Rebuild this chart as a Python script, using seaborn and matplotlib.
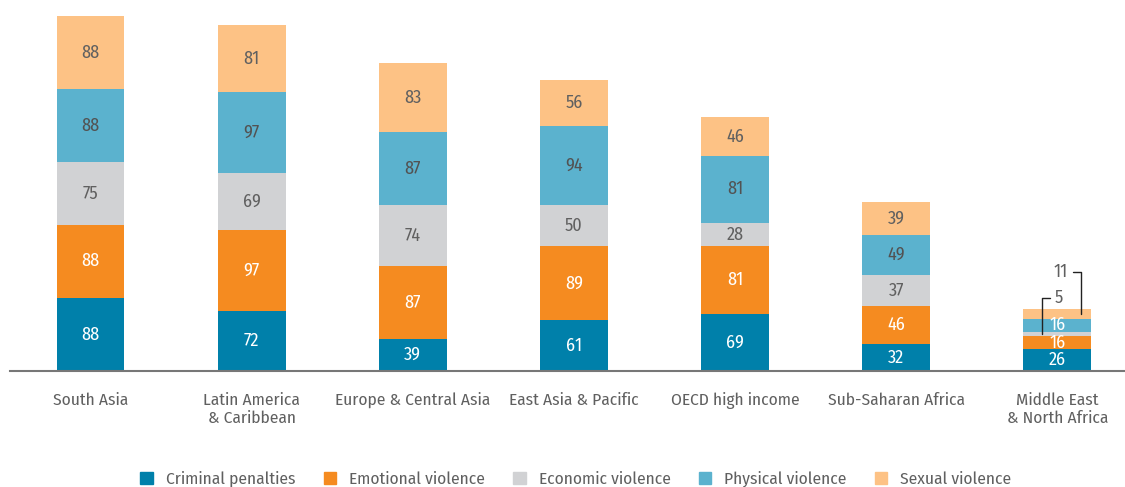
import numpy as np
import matplotlib
matplotlib.use("Agg")
import matplotlib.pyplot as plt
import seaborn as sns

# Data
regions = ["South Asia", "Latin America\n& Caribbean", "Europe & Central Asia",
           "East Asia & Pacific", "OECD high income", "Sub-Saharan Africa",
           "Middle East\n& North Africa"]
series = ["Criminal penalties", "Emotional violence", "Economic violence",
          "Physical violence", "Sexual violence"]
criminal = [88, 72, 39, 61, 69, 32, 26]
emotional = [88, 97, 87, 89, 81, 46, 16]
economic = [75, 69, 74, 50, 28, 37, 5]
physical = [88, 97, 87, 94, 81, 49, 16]
sexual = [88, 81, 83, 56, 46, 39, 11]

colors = ["#0080aa", "#f58b20", "#d1d2d4", "#5bb2ce", "#fdc285"]
label_colors = ["white", "white", "#606060", "#525252", "#606060"]
text_gray = "#606060"

sns.set_theme(style="white")
plt.rcParams["font.family"] = ["Fira Sans Condensed", "DejaVu Sans"]

values = np.array([criminal, emotional, economic, physical, sexual], dtype=float)
cum = values.cumsum(axis=0)

fig = plt.figure(figsize=(11.25, 4.87), dpi=100)
ax = fig.add_axes([10 / 1125, 116 / 487, 1115 / 1125, 366 / 487])

# draw cumulative totals from the top series down so each layer overlays the next
for i in range(len(series) - 1, -1, -1):
    sns.barplot(x=regions, y=cum[i], color=colors[i], width=0.42, saturation=1,
                linewidth=0, ax=ax, label=series[i])

ax.set_xlim(-0.5, 6.42)
ax.set_ylim(0, 440)

# segment labels
for j in range(len(regions)):
    for i in range(len(series)):
        v = values[i, j]
        mid = cum[i, j] - v / 2
        if j == 6 and i in (2, 4):
            continue
        col = label_colors[i]
        if j == 6 and i == 3:
            col = "white"
        ax.text(j, mid, f"{int(v)}", ha="center", va="center", color=col, fontsize=13)

# leader-line labels for the thin MENA segments
j = 6
y5 = cum[2, j] - values[2, j] / 2
y11 = cum[4, j] - values[4, j] / 2
ax.text(j + 0.01, 88, "5", ha="center", va="center", color=text_gray, fontsize=13)
ax.plot([j - 0.045, j - 0.095, j - 0.095], [88, 88, y5], color="#222222", lw=1)
ax.text(j + 0.02, 119, "11", ha="center", va="center", color=text_gray, fontsize=13)
ax.plot([j + 0.1, j + 0.148, j + 0.148], [119, 119, y11], color="#222222", lw=1)

for s in ["top", "right", "left"]:
    ax.spines[s].set_visible(False)
ax.spines["bottom"].set_color("#777777")
ax.spines["bottom"].set_linewidth(1.5)
ax.set_yticks([])
ax.set_xlabel("")
ax.set_ylabel("")
ax.tick_params(axis="x", length=0, pad=15, labelsize=12.5, labelcolor=text_gray)
ax.legend().remove()

handles = [plt.Rectangle((0, 0), 1, 1, color=c) for c in colors]
fig.legend(handles, series, loc="center", bbox_to_anchor=(0.512, 0.016), ncol=5,
           frameon=False, fontsize=12.5, labelcolor=text_gray, handlelength=0.7,
           handleheight=0.7, handletextpad=0.75, columnspacing=1.65)

fig.savefig("out.png", dpi=100)
